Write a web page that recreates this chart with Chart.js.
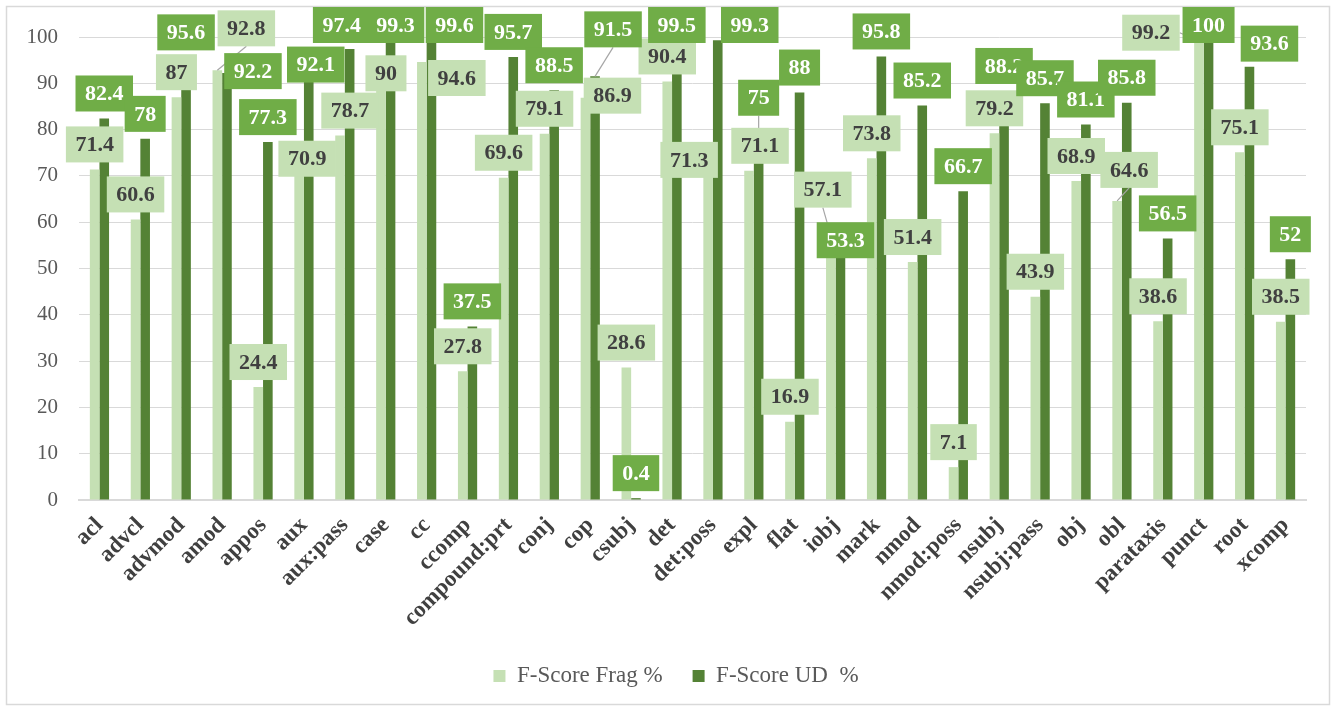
<!DOCTYPE html>
<html>
<head>
<meta charset="utf-8">
<script src="https://cdn.jsdelivr.net/npm/chart.js@4.4.0/dist/chart.umd.min.js"></script>
<style>
  html, body { margin: 0; padding: 0; background: #fff; }
  #wrap { width: 1336px; height: 711px; }
</style>
</head>
<body>
<div id="wrap"><canvas id="depChart" width="1336" height="711"></canvas></div>
<script>
// dependency relations on the x axis
var relations = ['acl', 'advcl', 'advmod', 'amod', 'appos', 'aux', 'aux:pass', 'case', 'cc', 'ccomp',
    'compound:prt', 'conj', 'cop', 'csubj', 'det', 'det:poss', 'expl', 'flat', 'iobj', 'mark',
    'nmod', 'nmod:poss', 'nsubj', 'nsubj:pass', 'obj', 'obl', 'parataxis', 'punct', 'root', 'xcomp'];

var fragScores = [71.4, 60.6, 87, 92.8, 24.4, 70.9, 78.7, 90, 94.6, 27.8,
    69.6, 79.1, 86.9, 28.6, 90.4, 71.3, 71.1, 16.9, 57.1, 73.8,
    51.4, 7.1, 79.2, 43.9, 68.9, 64.6, 38.6, 99.2, 75.1, 38.5];

// nsubj bar stands near 81 but its label reads 88.2
var udScores = [82.4, 78, 95.6, 92.2, 77.3, 92.1, 97.4, 99.3, 99.6, 37.5,
    95.7, 88.5, 91.5, 0.4, 99.5, 99.3, 75, 88, 53.3, 95.8,
    85.2, 66.7, 81, 85.7, 81.1, 85.8, 56.5, 100, 93.6, 52];
var udLabelText = {22: '88.2'};

var seriesNames = ['F-Score Frag %', 'F-Score UD  %'];
var yMin = 0, yMax = 100, yStep = 10;

// labels that were dragged away from the bar end: [dx, dy, leader line]
var labelNudges = [
    {3: [29, -17, true], 5: [8, 12], 6: [10, 0], 7: [5, 15], 8: [35, 41], 12: [27, 23],
     15: [-19, 15], 16: [11, 0], 18: [-8, -21, true], 25: [12, -6, true], 27: [-48, 17, true]},
    {3: [26, 23], 5: [7, 16], 6: [-8, 0], 7: [5, 0], 8: [23, 0], 12: [18, -22, true],
     15: [32, 0], 16: [0, -30, true], 18: [5, 12], 22: [0, -34], 28: [20, 2]}
];

var serif = '"Liberation Serif", "DejaVu Serif", serif';
var labelStyle = [
    {bg: '#c5e0b4', fg: '#404040'},
    {bg: '#70ad47', fg: '#ffffff'}
];

var frame = {
    id: 'frame',
    afterLayout: function(chart) {
        // legend sits a little right of the canvas centre
        chart.legend.left += 23;
        chart.legend.right += 23;
    },
    beforeDraw: function(chart) {
        var ctx = chart.ctx;
        ctx.save();
        ctx.fillStyle = '#fff';
        ctx.fillRect(0, 0, chart.width, chart.height);
        ctx.strokeStyle = '#d9d9d9';
        ctx.lineWidth = 1.5;
        ctx.strokeRect(6.5, 6.5, chart.width - 13, chart.height - 13);
        ctx.restore();
    }
};

var boxLabels = {
    id: 'boxLabels',
    afterDatasetsDraw: function(chart) {
        var ctx = chart.ctx;
        var boxes = [];
        ctx.save();
        ctx.font = 'bold 22px ' + serif;
        chart.data.datasets.forEach(function(ds, d) {
            var meta = chart.getDatasetMeta(d);
            meta.data.forEach(function(bar, i) {
                var txt = (d === 1 && udLabelText[i]) ? udLabelText[i] : String(ds.data[i]);
                var n = labelNudges[d][i] || [0, 0, false];
                var w = ctx.measureText(txt).width + 19;
                var cx = bar.x + n[0];
                var bottom = bar.y - 7 + n[1];
                var top = Math.max(bottom - 36, 7);
                boxes.push({d: d, txt: txt, left: cx - w / 2, right: cx + w / 2, top: top, bottom: top + 36,
                    bx: bar.x, by: bar.y, leader: n[2]});
            });
        });

        ctx.strokeStyle = '#a6a6a6';
        ctx.lineWidth = 1.2;
        boxes.forEach(function(b) {
            if (!b.leader) return;
            var tx, ty;
            if (b.by > b.bottom) {
                tx = (b.left + b.right) / 2; ty = b.bottom;
            } else if (b.bx > b.right) {
                tx = b.right; ty = (b.top + b.bottom) / 2;
            } else {
                tx = b.left; ty = (b.top + b.bottom) / 2;
            }
            ctx.beginPath();
            ctx.moveTo(b.bx, b.by);
            ctx.lineTo(tx, ty);
            ctx.stroke();
        });

        ctx.textAlign = 'center';
        ctx.textBaseline = 'middle';
        boxes.forEach(function(b) {
            ctx.fillStyle = labelStyle[b.d].bg;
            ctx.fillRect(b.left, b.top, b.right - b.left, 36);
            ctx.fillStyle = labelStyle[b.d].fg;
            ctx.fillText(b.txt, (b.left + b.right) / 2, b.top + 19);
        });
        ctx.restore();
    }
};

var chart = new Chart(document.getElementById('depChart'), {
    type: 'bar',
    data: {
        labels: relations,
        datasets: [
            {
                label: seriesNames[0],
                data: fragScores,
                backgroundColor: '#c5e0b4',
                categoryPercentage: 0.47,
                barPercentage: 1.0
            },
            {
                label: seriesNames[1],
                data: udScores,
                backgroundColor: '#548235',
                categoryPercentage: 0.47,
                barPercentage: 1.0
            }
        ]
    },
    options: {
        responsive: false,
        animation: false,
        layout: {padding: {top: 37, right: 30, bottom: 13.5, left: 0}},
        plugins: {
            tooltip: {enabled: false},
            legend: {
                position: 'bottom',
                labels: {
                    boxWidth: 12,
                    boxHeight: 12,
                    padding: 30,
                    color: '#595959',
                    font: {family: serif, size: 23}
                }
            }
        },
        scales: {
            x: {
                grid: {display: false},
                border: {color: '#d9d9d9', width: 2},
                ticks: {
                    autoSkip: false,
                    maxRotation: 45,
                    minRotation: 45,
                    padding: 4,
                    color: '#404040',
                    font: {family: serif, size: 23, weight: 'bold'}
                },
                afterFit: function(scale) {
                    scale.height = 134.5;
                    scale.paddingLeft = 0;
                    scale.paddingRight = 0;
                }
            },
            y: {
                min: yMin,
                max: yMax,
                grid: {color: '#d9d9d9', drawTicks: false},
                border: {display: false},
                ticks: {
                    stepSize: yStep,
                    padding: 21,
                    color: '#595959',
                    font: {family: serif, size: 21}
                },
                afterFit: function(scale) {
                    scale.width = 79;
                }
            }
        }
    },
    plugins: [frame, boxLabels]
});
</script>
</body>
</html>
